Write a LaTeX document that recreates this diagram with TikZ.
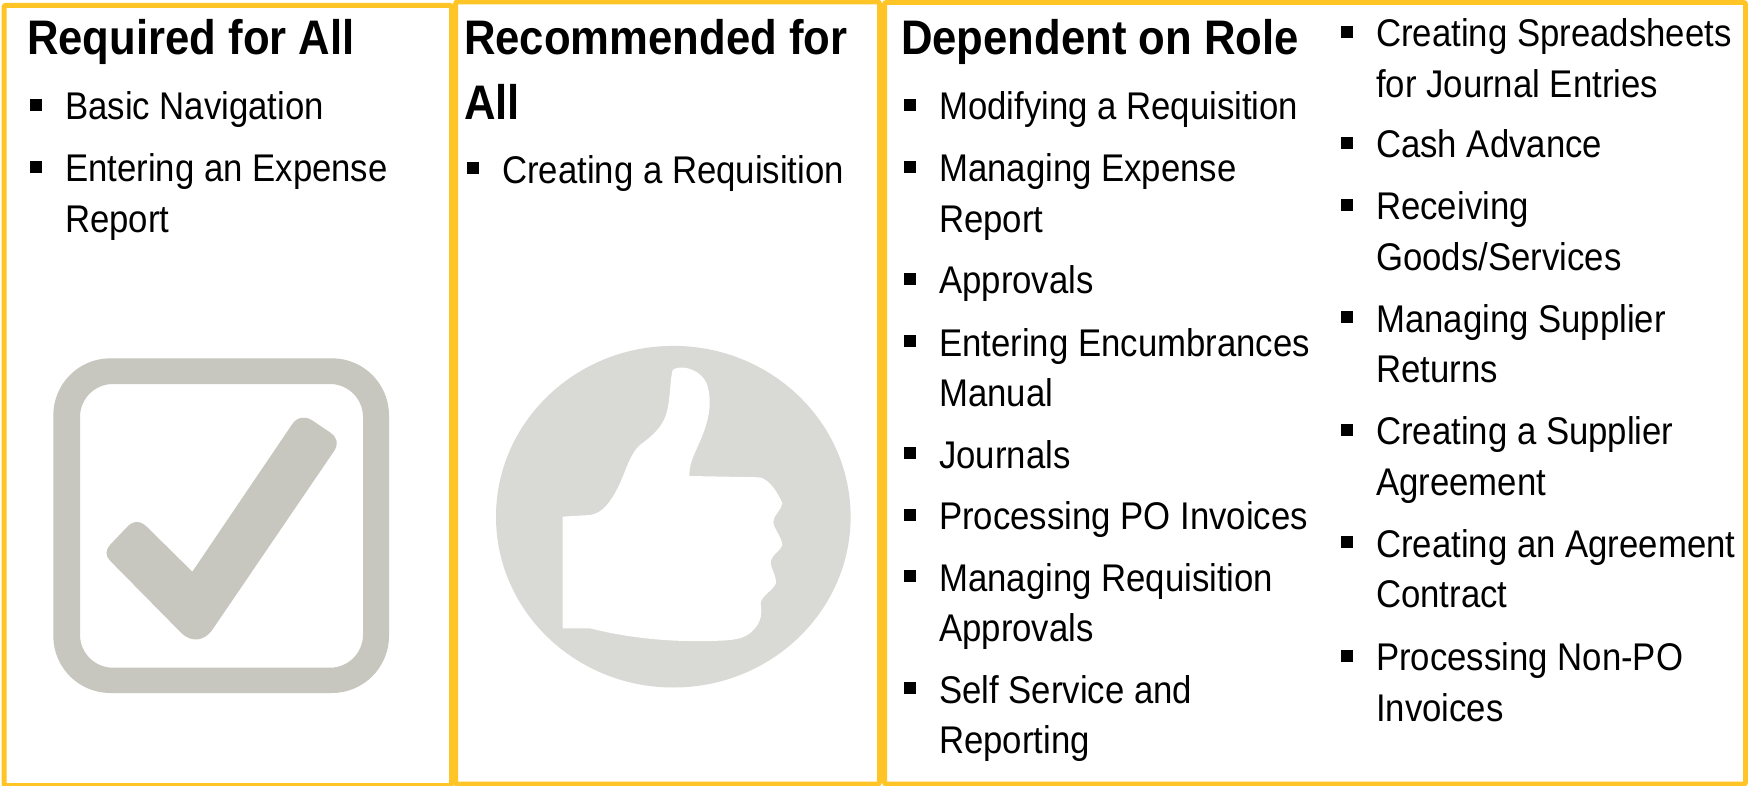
\documentclass[tikz,border=0pt]{standalone}
\usepackage{fontspec}
\setmainfont[FakeStretch=0.9]{Liberation Sans}
\definecolor{frameY}{HTML}{FFC425}
\definecolor{checkG}{HTML}{C7C7C0}
\definecolor{thumbG}{HTML}{D9D9D5}
\tikzset{
  panel/.style={draw=frameY,line width=5pt,fill=none,rounded corners=2pt,inner sep=0pt,outer sep=0pt,anchor=north west},
  heading/.style={anchor=base west,inner sep=0pt,align=left,font=\bfseries\fontsize{48.5}{65}\selectfont},
  itemtext/.style={anchor=base west,inner sep=0pt,align=left,font=\fontsize{38.6}{50.7}\selectfont},
  bulletbox/.style={fill=black,inner sep=0pt,minimum size=12pt,anchor=center}
}
% a one-line entry: name, bullet x, text x, baseline y, text
\newcommand{\listentry}[5]{%
  \node[bulletbox] (b#1) at (#2,#4-15) {};
  \node[itemtext] (t#1) at (#3,#4) {#5};
}
% a two-line entry: the node's base is its last line
\newcommand{\listentrytwo}[5]{%
  \node[bulletbox] (b#1) at (#2,#4-15) {};
  \node[itemtext] (t#1) at (#3,#4+50.7) {#5};
}
\begin{document}
\begin{tikzpicture}[x=1pt,y=-1pt]
\useasboundingbox (0,0) rectangle (1748,786);
\fill[white] (0,0) rectangle (1748,786);
\node[panel,minimum width=447.5pt,minimum height=780.2pt] (p1) at (4,5.3) {};
\node[panel,minimum width=424pt,minimum height=782pt] (p2) at (455.5,2) {};
\node[panel,minimum width=861pt,minimum height=781.5pt] (p3) at (884.5,2.5) {};
% headings
\node[heading] (h1) at (27,55) {Required for All};
\node[heading] (h2) at (464,120) {Recommended for\\All};
\node[heading] (h3) at (901,55) {Dependent on Role};
% column 1
\listentry{a}{36}{65}{120}{Basic Navigation}
\listentrytwo{b}{36}{65}{182}{Entering an Expense\\Report}
% column 2
\listentry{c}{473}{502}{183.5}{Creating a Requisition}
% column 3
\listentry{d}{910}{939}{120}{Modifying a Requisition}
\listentrytwo{e}{910}{939}{182}{Managing Expense\\Report}
\listentry{f}{910}{939}{294}{Approvals}
\listentrytwo{g}{910}{939}{356}{Entering Encumbrances\\Manual}
\listentry{h}{910}{939}{468}{Journals}
\listentry{i}{910}{939}{529.5}{Processing PO Invoices}
\listentrytwo{j}{910}{939}{591}{Managing Requisition\\Approvals}
\listentrytwo{k}{910}{939}{703}{Self Service and\\Reporting}
% column 4
\listentrytwo{l}{1347}{1376}{47}{Creating Spreadsheets\\for Journal Entries}
\listentry{m}{1347}{1376}{158}{Cash Advance}
\listentrytwo{n}{1347}{1376}{220}{Receiving\\Goods/Services}
\listentrytwo{o}{1347}{1376}{332}{Managing Supplier\\Returns}
\listentrytwo{p}{1347}{1376}{444.5}{Creating a Supplier\\Agreement}
\listentrytwo{q}{1347}{1376}{557}{Creating an Agreement\\Contract}
\listentrytwo{r}{1347}{1376}{670.5}{Processing Non-PO\\Invoices}
% check box icon
\fill[checkG,even odd rule,rounded corners=57pt] (53.3,358.3) rectangle (389,693)
  [rounded corners=33pt] (80,384) rectangle (363,667.7);
\begin{scope}[shift={(0,330)},x=0.33333pt,y=-0.33333pt]
\fill[checkG] (577,725) -- (875,285) .. controls (890,260) and (915,258) .. (935,270)
  -- (990,307) .. controls (1012,322) and (1016,340) .. (1003,362)
  -- (640,895) .. controls (615,935) and (575,938) .. (545,910)
  -- (330,692) .. controls (316,678) and (316,660) .. (330,645)
  -- (380,592) .. controls (398,572) and (420,570) .. (440,590) -- cycle;
\end{scope}
% thumb icon
\fill[thumbG] (673.3,516.7) ellipse [x radius=177.3,y radius=170.8];
\begin{scope}[shift={(440,320)},x=0.33333pt,y=-0.33333pt]
\fill[white] (368,590) -- (450,585) .. controls (490,580) and (515,540) .. (535,500)
  .. controls (555,460) and (570,400) .. (600,375)
  .. controls (640,345) and (670,320) .. (682,270)
  .. controls (692,220) and (690,180) .. (698,150)
  .. controls (715,135) and (775,140) .. (800,190)
  .. controls (820,250) and (805,310) .. (775,375)
  .. controls (760,410) and (748,430) .. (748,468)
  -- (960,472) .. controls (990,480) and (1015,520) .. (1027,550)
  .. controls (1025,570) and (1000,585) .. (1000,605)
  .. controls (1000,625) and (1025,650) .. (1027,675)
  .. controls (1020,695) and (992,705) .. (992,730)
  .. controls (995,750) and (1008,765) .. (1008,790)
  .. controls (1000,810) and (962,830) .. (962,850)
  .. controls (966,880) and (965,900) .. (945,925)
  .. controls (920,955) and (890,960) .. (840,962)
  .. controls (700,968) and (570,955) .. (450,925)
  -- (368,925) -- cycle;
\end{scope}
\end{tikzpicture}
\end{document}
